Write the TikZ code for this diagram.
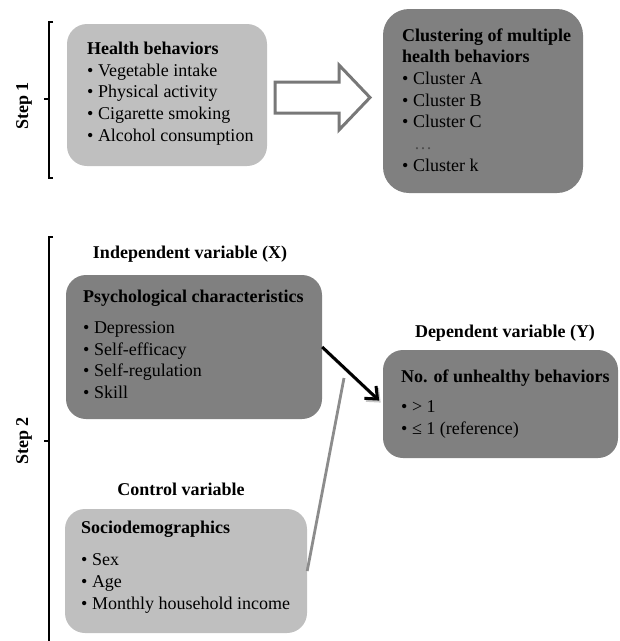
\documentclass[tikz,border=0pt]{standalone}
\usepackage{fontspec}
\setmainfont{Liberation Serif}
\usetikzlibrary{arrows.meta}
\definecolor{lightbox}{RGB}{191,191,191}
\definecolor{darkbox}{RGB}{128,128,128}
\definecolor{arrowgray}{RGB}{120,120,120}
\definecolor{linegray}{RGB}{140,140,140}
\begin{document}
\begin{tikzpicture}[x=1pt,y=-1pt,
  box/.style={rectangle, rounded corners=20pt, inner sep=0pt, draw=none},
  txt/.style={anchor=west, align=left, inner sep=0pt, font=\fontsize{18}{21.7}\selectfont},
  hdr/.style={font=\fontsize{18}{21.7}\selectfont\bfseries, inner sep=0pt},
  bracket/.style={line width=2pt},
]
\useasboundingbox (0,0) rectangle (620,641);

% Step 1
\node[box, fill=lightbox, minimum width=200pt, minimum height=142pt] (health) at (167,95) {};
\node[txt] (healthtxt) at (87,93.5) {\textbf{Health behaviors}\\\textbullet\ Vegetable intake\\\textbullet\ Physical activity\\\textbullet\ Cigarette smoking\\\textbullet\ Alcohol consumption};

\node[box, rounded corners=26pt, fill=darkbox, minimum width=200pt, minimum height=184pt] (cluster) at (483,101) {};
\node[txt] (clustertxt) at (402,100) {\textbf{Clustering of multiple}\\\textbf{health behaviors}\\\textbullet\ Cluster A\\\textbullet\ Cluster B\\\textbullet\ Cluster C\\\hspace{12pt}{\color{black!70}…}\\\textbullet\ Cluster k};

\draw[line width=3pt, draw=arrowgray, fill=white, line join=miter]
  (275,82) -- (339,82) -- (339,65) -- (370,97.5) -- (339,130) -- (339,113) -- (275,113) -- cycle;

\node[hdr, rotate=90] (step1) at (24,106) {Step 1};
\draw[bracket] (53,22) -- (49,22) -- (49,178) -- (53,178);
\draw[bracket] (49,99) -- (44,99);

% Step 2
\node[hdr, rotate=90] (step2) at (24,441) {Step 2};
\draw[bracket] (53,237) -- (49,237) -- (49,645);
\draw[bracket] (49,441) -- (44,441);

\node[hdr] (indep) at (190,254) {Independent variable (X)};
\node[box, fill=darkbox, minimum width=256pt, minimum height=144pt] (psych) at (194,347) {};
\node[txt] (psychtxt) at (83,344.5) {\textbf{Psychological characteristics}\\[9pt]\textbullet\ Depression\\\textbullet\ Self-efficacy\\\textbullet\ Self-regulation\\\textbullet\ Skill};

\node[hdr] (depl) at (505,333) {Dependent variable (Y)};
\node[box, fill=darkbox, minimum width=235pt, minimum height=108pt] (dep) at (500.5,404) {};
\node[txt] (deptxt) at (401,404) {\textbf{No. of unhealthy behaviors}\\[8pt]\textbullet\ > 1\\\textbullet\ ≤ 1 (reference)};

\node[hdr] (ctrl) at (181,489) {Control variable};
\node[box, fill=lightbox, minimum width=242pt, minimum height=124pt] (socio) at (186,571) {};
\node[txt] (sociotxt) at (81,567) {\textbf{Sociodemographics}\\[11pt]\textbullet\ Sex\\\textbullet\ Age\\\textbullet\ Monthly household income};

% connectors
\draw[line width=3pt, black!22, shorten >=5pt, -{Straight Barb[length=10pt, width=17pt]}, transform canvas={shift={(1.5pt,-2pt)}}] (psych.east) -- (dep.west);
\draw[line width=3pt, black, shorten >=5pt, -{Straight Barb[length=10pt, width=17pt]}] (psych.east) -- (dep.west);
\coordinate (gtop) at (344,378);
\draw[line width=2.8pt, linegray] (socio.east) -- (gtop);
\end{tikzpicture}
\end{document}
